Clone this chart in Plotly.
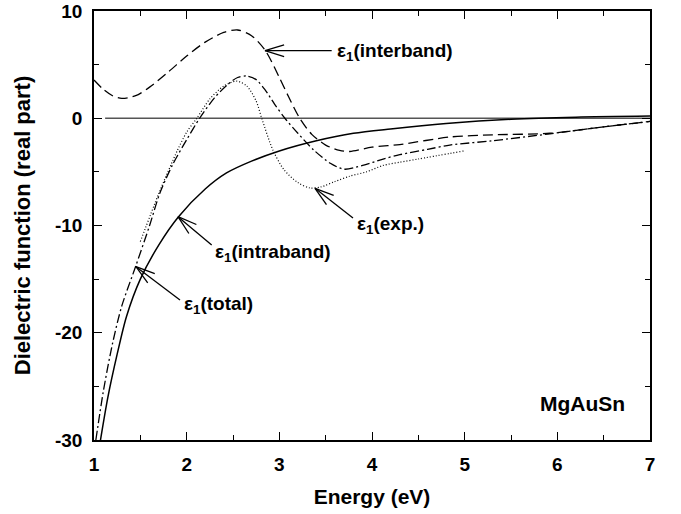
import math
import plotly.graph_objects as go

# ---------------- data ----------------
intra_x = [1.07, 1.15, 1.25, 1.35, 1.5, 1.7, 1.91, 2.2, 2.43, 2.7, 3.0, 3.4, 3.8, 4.2, 4.8, 5.5, 6.2, 7.0]
intra_y = [-30, -26, -22, -18.5, -15, -11.8, -9.2, -6.6, -5.1, -4.0, -3.05, -2.1, -1.4, -1.0, -0.5, -0.1, 0.1, 0.2]

total_x = [1.02, 1.1, 1.2, 1.3, 1.45, 1.6, 1.71, 1.85, 2.0, 2.14, 2.3, 2.45, 2.55, 2.65, 2.75, 2.85,
           2.95, 3.06, 3.2, 3.37, 3.55, 3.7, 3.9, 4.12, 4.3, 4.6, 4.84, 5.3, 5.92, 6.5, 7.0]
total_y = [-30, -25.5, -21, -17.5, -13.8, -10, -7.0, -4.3, -2.0, 0, 1.9, 3.2, 3.8, 3.94, 3.6, 2.6,
           1.3, 0, -1.4, -2.95, -4.2, -4.75, -4.4, -3.8, -3.4, -2.9, -2.5, -2.1, -1.45, -0.8, -0.3]

inter_x = [1.0, 1.1, 1.2, 1.3, 1.45, 1.6, 1.8, 2.0, 2.2, 2.4, 2.55, 2.7, 2.85, 3.0, 3.1, 3.22,
           3.35, 3.5, 3.65, 3.76, 4.0, 4.3, 4.84, 5.3, 5.92, 6.5, 7.0]
inter_y = [3.57, 2.7, 2.1, 1.86, 2.1, 2.9, 4.3, 5.8, 7.1, 8.0, 8.23, 7.7, 6.3, 3.8, 2.0, 0,
           -1.5, -2.5, -3.0, -3.1, -2.7, -2.45, -1.75, -1.55, -1.4, -0.8, -0.3]

exp_x = [1.5, 1.7, 1.9, 2.0, 2.11, 2.25, 2.4, 2.54, 2.65, 2.75, 2.81, 2.93, 3.05, 3.2, 3.33,
         3.45, 3.6, 3.76, 3.94, 4.12, 4.3, 4.5, 4.99]
exp_y = [-11.5, -7.0, -3.0, -1.3, 0, 1.8, 3.0, 3.47, 3.0, 1.6, 0, -2.95, -4.8, -6.0, -6.5,
         -6.4, -5.9, -5.4, -5.0, -4.4, -4.1, -3.8, -3.05]

zero_x = [1.12, 7.0]
zero_y = [0, 0]

x_ticks = [1, 2, 3, 4, 5, 6, 7]
x_ticktext = ["1", "2", "3", "4", "5", "6", "7"]
y_ticks = [-30, -20, -10, 0, 10]
y_ticktext = ["-30", "-20", "-10", "0", "10"]

# labels: (text, text x, text y, arrow tail x, tail y, tip x, tip y)
labels = [
    ("ε<sub>1</sub>(interband)", 3.60, 6.18, 3.565, 6.30, 2.845, 6.30),
    ("ε<sub>1</sub>(intraband)", 2.284, -12.56, 2.27, -11.82, 1.906, -9.18),
    ("ε<sub>1</sub>(total)", 1.95, -17.41, 1.928, -16.95, 1.453, -13.84),
    ("ε<sub>1</sub>(exp.)", 3.817, -9.95, 3.795, -9.30, 3.385, -6.53),
]

# ---------------- layout geometry ----------------
W, H = 681, 514
ML, MR, MT, MB = 94, 31, 11, 74
XR = [1, 7]
YR = [-30, 10]
pxx = (W - ML - MR) / (XR[1] - XR[0])
pxy = (H - MT - MB) / (YR[1] - YR[0])

FONT = "Liberation Sans, Arial, Helvetica, sans-serif"

fig = go.Figure()
line_common = dict(color="black", width=1.3, shape="spline", smoothing=0.8)
fig.add_trace(go.Scatter(x=zero_x, y=zero_y, mode="lines",
                         line=dict(color="#555555", width=1.4), hoverinfo="skip"))
fig.add_trace(go.Scatter(x=intra_x, y=intra_y, mode="lines",
                         line=dict(line_common, dash="solid", width=1.5)))
fig.add_trace(go.Scatter(x=inter_x, y=inter_y, mode="lines",
                         line=dict(line_common, dash="10px,5px")))
fig.add_trace(go.Scatter(x=total_x, y=total_y, mode="lines",
                         line=dict(line_common, dash="9px,3px,2px,3px")))
fig.add_trace(go.Scatter(x=exp_x, y=exp_y, mode="lines",
                         line=dict(line_common, dash="1px,2px", width=1.2)))

ann = []
shapes = []
arrow_line = dict(color="black", width=1.3)
for text, tx, ty, ax_, ay_, hx, hy in labels:
    ann.append(dict(x=tx, y=ty, xref="x", yref="y", text=text, showarrow=False,
                    xanchor="left", yanchor="middle",
                    font=dict(family=FONT, size=19, color="black", weight="bold")))
    shapes.append(dict(type="line", xref="x", yref="y", x0=ax_, y0=ay_, x1=hx, y1=hy,
                       line=arrow_line))
    # open V arrow head
    dxp = (ax_ - hx) * pxx
    dyp = (ay_ - hy) * pxy
    ang = math.atan2(dyp, dxp)
    for s in (-1, 1):
        a = ang + s * math.radians(17)
        shapes.append(dict(type="line", xref="x", yref="y", x0=hx, y0=hy,
                           x1=hx + 20 * math.cos(a) / pxx, y1=hy + 20 * math.sin(a) / pxy,
                           line=arrow_line))

ann.append(dict(x=6.75, y=-26.55, xref="x", yref="y", text="MgAuSn", showarrow=False,
                xanchor="right", yanchor="middle",
                font=dict(family=FONT, size=21, color="black", weight="bold")))

axis_common = dict(showgrid=False, zeroline=False, showline=True, linecolor="black",
                   linewidth=1.5, mirror="ticks", ticks="inside", ticklen=8,
                   tickwidth=1.3, tickcolor="black", automargin=False,
                   ticklabeloverflow="allow",
                   tickfont=dict(family=FONT, size=19, color="black", weight="bold"))

fig.update_layout(
    width=W, height=H,
    margin=dict(l=ML, r=MR, t=MT, b=MB),
    paper_bgcolor="white", plot_bgcolor="white",
    showlegend=False,
    annotations=ann,
    shapes=shapes,
    xaxis=dict(axis_common, range=XR, tickvals=x_ticks, ticktext=x_ticktext,
               ticklabelstandoff=6,
               minor=dict(dtick=0.5, ticks="inside", ticklen=5, tickwidth=1.3, tickcolor="black"),
               title=dict(text="Energy (eV)", standoff=16,
                          font=dict(family=FONT, size=21, color="black", weight="bold"))),
    yaxis=dict(axis_common, range=YR, tickvals=y_ticks, ticktext=y_ticktext,
               ticklabelstandoff=6,
               minor=dict(dtick=5, ticks="inside", ticklen=5, tickwidth=1.3, tickcolor="black"),
               title=dict(text="Dielectric function (real part)", standoff=18,
                          font=dict(family=FONT, size=22, color="black", weight="bold"))),
)

fig.write_html("out.html", config={"displayModeBar": False},
               post_script="document.body.style.margin='0px';")
